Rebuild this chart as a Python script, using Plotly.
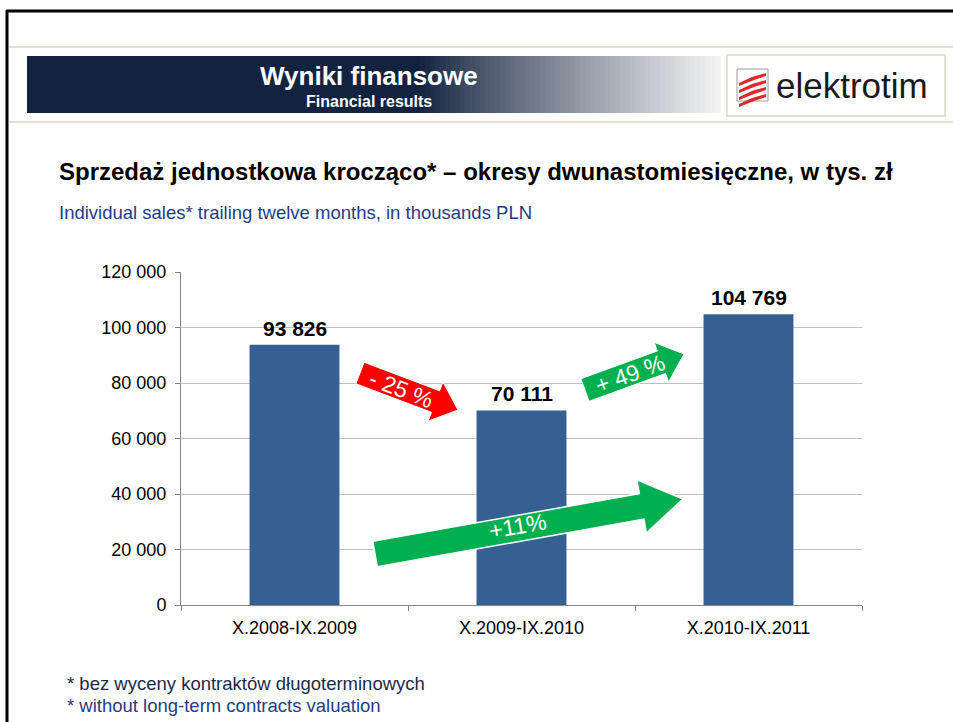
import math
import plotly.graph_objects as go

# ---------------- data ----------------
categories = ["X.2008-IX.2009", "X.2009-IX.2010", "X.2010-IX.2011"]
sales = [93826, 70111, 104769]
y_ticks = [0, 20000, 40000, 60000, 80000, 100000, 120000]
y_tick_labels = ["0", "20 000", "40 000", "60 000", "80 000", "100 000", "120 000"]
change_labels = ["- 25 %", "+ 49 %", "+11%"]

title_pl = "Sprzedaż jednostkowa krocząco* – okresy dwunastomiesięczne, w tys. zł"
title_en = "Individual sales* trailing twelve months, in thousands PLN"
header_pl = "Wyniki finansowe"
header_en = "Financial results"
foot_pl = "* bez wyceny kontraktów długoterminowych"
foot_en = "* without long-term contracts valuation"
logo_text = "elektrotim"

W, H = 953, 722
FONT = "Liberation Sans, Arial, sans-serif"


def px(x):
    return x / W


def py(y):
    return 1 - y / H


def fmt(v):
    return f"{v:,}".replace(",", " ")


def hexmix(c1, c2, t):
    a = [int(c1[i:i + 2], 16) for i in (1, 3, 5)]
    b = [int(c2[i:i + 2], 16) for i in (1, 3, 5)]
    m = [round(a[k] + (b[k] - a[k]) * t) for k in range(3)]
    return "#%02x%02x%02x" % tuple(m)


def arrow_path(sx, sy, tx, ty, shaft_w, head_w, head_len):
    dx, dy = tx - sx, ty - sy
    L = math.hypot(dx, dy)
    ux, uy = dx / L, dy / L
    nx, ny = -uy, ux
    bx, by = tx - ux * head_len, ty - uy * head_len
    pts = [
        (sx + nx * shaft_w / 2, sy + ny * shaft_w / 2),
        (bx + nx * shaft_w / 2, by + ny * shaft_w / 2),
        (bx + nx * head_w / 2, by + ny * head_w / 2),
        (tx, ty),
        (bx - nx * head_w / 2, by - ny * head_w / 2),
        (bx - nx * shaft_w / 2, by - ny * shaft_w / 2),
        (sx - nx * shaft_w / 2, sy - ny * shaft_w / 2),
    ]
    return "M " + " L ".join(f"{px(x):.5f},{py(y):.5f}" for x, y in pts) + " Z"


def text(x, y, s, size, color, xanchor="center", angle=0):
    return dict(xref="paper", yref="paper", x=px(x), y=py(y), text=s, showarrow=False,
                xanchor=xanchor, yanchor="middle", textangle=angle,
                font=dict(family=FONT, size=size, color=color))


fig = go.Figure()
fig.add_trace(go.Bar(
    x=categories, y=sales, width=0.396,
    marker=dict(color="#376092", line=dict(width=0)),
    hoverinfo="skip", showlegend=False,
))

shapes = []
annotations = []

# frame lines
shapes.append(dict(type="line", xref="paper", yref="paper", x0=px(6), x1=px(953), y0=py(11), y1=py(11),
                   line=dict(color="#000000", width=3)))
shapes.append(dict(type="line", xref="paper", yref="paper", x0=px(7), x1=px(7), y0=py(10), y1=py(722),
                   line=dict(color="#000000", width=3)))
for yy in (47, 122):
    shapes.append(dict(type="line", xref="paper", yref="paper", x0=px(9), x1=px(953), y0=py(yy), y1=py(yy),
                       line=dict(color="#d9d5c3", width=1.5)))

# header banner (dark part + gradient strips)
shapes.append(dict(type="rect", xref="paper", yref="paper", x0=px(27), x1=px(421), y0=py(113), y1=py(56),
                   fillcolor="#13233f", line=dict(width=0), layer="below"))
n = 60
g0, g1 = 420, 720
for i in range(n):
    t = (i + 0.5) / n
    c = hexmix("#13233f", "#f4f4f4", t ** 0.9)
    shapes.append(dict(type="rect", xref="paper", yref="paper",
                       x0=px(g0 + (g1 - g0) * i / n), x1=px(g0 + (g1 - g0) * (i + 1) / n + 0.6),
                       y0=py(113), y1=py(56), fillcolor=c, line=dict(width=0), layer="below"))

# logo box
shapes.append(dict(type="rect", xref="paper", yref="paper", x0=px(727), x1=px(945), y0=py(116), y1=py(55),
                   fillcolor="#ffffff", line=dict(color="#ddd8c4", width=1.5), layer="below"))
shapes.append(dict(type="rect", xref="paper", yref="paper", x0=px(737), x1=px(768), y0=py(101), y1=py(69),
                   fillcolor="#ffffff", line=dict(color="#9a9a9a", width=1), layer="below"))
for k in range(4):
    y0 = 76 + k * 7
    path = (f"M {px(739):.5f},{py(y0 + 7):.5f} L {px(752):.5f},{py(y0 + 1):.5f} L {px(766):.5f},{py(y0 - 3):.5f} "
            f"L {px(766):.5f},{py(y0):.5f} L {px(754):.5f},{py(y0 + 4):.5f} L {px(739):.5f},{py(y0 + 10):.5f} Z")
    shapes.append(dict(type="path", xref="paper", yref="paper", path=path,
                       fillcolor="#e3262b", line=dict(width=0), layer="below"))

# change arrows
shapes.append(dict(type="path", xref="paper", yref="paper",
                   path=arrow_path(360, 373, 458, 410, 23, 42, 24),
                   fillcolor="#ff0000", line=dict(color="#ffffff", width=1)))
shapes.append(dict(type="path", xref="paper", yref="paper",
                   path=arrow_path(585, 390, 684, 354, 24, 42, 24),
                   fillcolor="#00b050", line=dict(color="#ffffff", width=1)))
shapes.append(dict(type="path", xref="paper", yref="paper",
                   path=arrow_path(375, 554, 683, 499, 26, 54, 42),
                   fillcolor="#00b050", line=dict(color="#ffffff", width=1.5)))

annotations.append(text(401, 389, change_labels[0], 23, "#ffffff", angle=21))
annotations.append(text(630, 374, change_labels[1], 23, "#ffffff", angle=-20))
annotations.append(text(518, 526, change_labels[2], 23, "#ffffff", angle=-10))

# bar value labels
for c, v in zip(categories, sales):
    annotations.append(dict(xref="x", yref="y", x=c, y=v, text=f"<b>{fmt(v)}</b>", showarrow=False,
                            yanchor="bottom", yshift=3, font=dict(family=FONT, size=21, color="#000000")))

# texts
annotations += [
    text(369, 76, f"<b>{header_pl}</b>", 26, "#ffffff"),
    text(369, 101, f"<b>{header_en}</b>", 16, "#ffffff"),
    text(774, 86, logo_text, 35, "#1a1a1a", xanchor="left"),
    text(57, 172, f"<b>{title_pl}</b>", 24, "#000000", xanchor="left"),
    text(57, 212, title_en, 18.5, "#1f3c88", xanchor="left"),
    text(65, 683, foot_pl, 18.5, "#1c2a4a", xanchor="left"),
    text(65, 705, foot_en, 18.5, "#1f3c88", xanchor="left"),
]

fig.update_layout(
    width=W, height=H,
    margin=dict(l=0, r=0, t=0, b=0, pad=0, autoexpand=False),
    paper_bgcolor="#ffffff", plot_bgcolor="#ffffff",
    font=dict(family=FONT, size=18, color="#000000"),
    shapes=shapes, annotations=annotations,
    bargap=0.6,
    xaxis=dict(domain=[px(181), px(862)], showline=True, linecolor="#868686", linewidth=1,
               ticks="outside", tickson="boundaries", ticklen=5, tickcolor="#868686",
               ticklabelstandoff=6,
               tickfont=dict(family=FONT, size=18, color="#000000"), showgrid=False, fixedrange=True),
    yaxis=dict(domain=[py(605), py(272)], range=[0, 120000], tickvals=y_ticks, ticktext=y_tick_labels,
               showline=True, linecolor="#868686", linewidth=1, ticks="outside", ticklen=5,
               ticklabelstandoff=5,
               tickcolor="#868686", showgrid=True, gridcolor="#bfbfbf", gridwidth=1, zeroline=False,
               tickfont=dict(family=FONT, size=18, color="#000000"), fixedrange=True),
)

fig.write_html("out.html", config={"displayModeBar": False, "responsive": False},
               post_script="document.body.style.margin='0';document.body.style.overflow='hidden';")
